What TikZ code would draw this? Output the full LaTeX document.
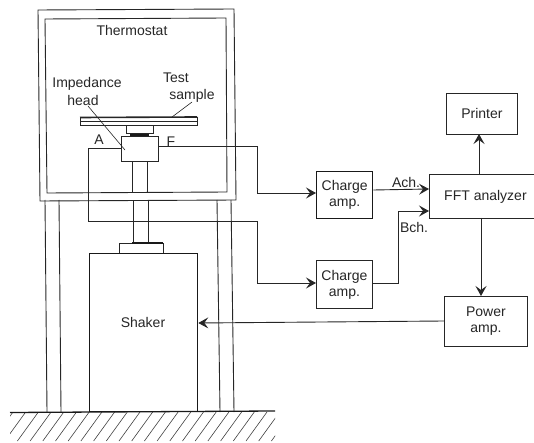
\documentclass[tikz,border=0pt]{standalone}
\usepackage{fontspec}
\setmainfont{Liberation Sans}
\usetikzlibrary{arrows.meta}
\tikzset{
  ln/.style={draw=black!85,line width=0.9pt},
  thick ln/.style={draw=black!90,line width=1.3pt},
  lbl/.style={inner sep=0pt,font=\fontsize{14}{16}\selectfont,text=black!85},
  blockbox/.style={ln,fill=white,inner sep=0pt,anchor=north west,align=center,font=\fontsize{14}{16}\selectfont,text=black!85},
  arw/.style={ln,-{Stealth[length=10pt,width=11pt,inset=4pt]}},
}
\begin{document}
\begin{tikzpicture}[x=1pt,y=-1pt]
\useasboundingbox (0,0) rectangle (534,443);
% hatching
\begin{scope}
\clip (10,412) rectangle (275,441);
\foreach \h in {0,12.7,...,300} {\draw[draw=black!75,line width=0.6pt] (\h-8,441) -- (\h+13,412);}
\end{scope}
% legs
\draw[ln] (45,200) -- (47,412) (59,200) -- (61,412) (217,200) -- (220,412) (231,200) -- (234,412);
% thermostat
\draw[ln] (38,10) -- (234,9) -- (236,200) -- (40,201) -- cycle;
\draw[ln] (45,19) -- (226,18) -- (227,192) -- (47,193) -- cycle;
% rod
\draw[ln] (132,161) -- (132,193) (147,161) -- (147,193) (133,201) -- (133,243) (148,201) -- (148,243);
% sample
\draw[ln,fill=white] (80,117) rectangle (197,125);
\draw[line width=1.6pt,black!85] (80,117.5) -- (197,117);
\draw[ln] (80,121) -- (197,121);
\draw[ln,fill=white] (126,125) rectangle (153,133);
\draw[thick ln] (130,135) -- (149,135);
\node[blockbox,minimum width=37pt,minimum height=25.5pt] (head) at (121,136) {};
% shaker
\draw[ln,fill=white] (119,243) rectangle (163,253);
\draw[thick ln] (132,243) -- (163,243);
\node[blockbox,thick ln,minimum width=108pt,minimum height=158pt] (shaker) at (89,253) {};
\node[lbl] (tshaker) at (143,322) {Shaker};
% ground
\draw[thick ln] (10,412.5) -- (275,411);
% blocks
\node[blockbox,thick ln,minimum width=56pt,minimum height=47pt] (amp1) at (316,171) {Charge\\amp.};
\node[blockbox,minimum width=56pt,minimum height=48pt] (amp2) at (316,260) {Charge\\amp.};
\node[blockbox,minimum width=112pt,minimum height=44pt] (fft) at (429,174) {FFT analyzer};
\node[blockbox,minimum width=71pt,minimum height=41pt] (printer) at (446,93) {Printer};
\node[blockbox,minimum width=83pt,minimum height=50pt] (power) at (444,296) {Power\\amp.};
% coordinates
\coordinate (f1) at (257,146.5);
\coordinate (f2) at (257,193);
\coordinate (a1) at (88,148);
\coordinate (a2) at (88,221);
\coordinate (a3) at (257,221);
\coordinate (a4) at (257,283);
\coordinate (b1) at (398,283);
\coordinate (b2) at (398,211);
% wires
\draw[arw] (head.east |- f1) -- (f1) -- (f2) -- (f2 -| amp1.west);
\draw[ln] (head.west |- a1) -- (a1) -- (a2) -- (a3) -- (a4);
\draw[arw] (a4) -- (a4 -| amp2.west);
\draw[arw] (amp1.east |- 0,190) -- (fft.west |- 0,189);
\draw[arw] (amp2.east |- b1) -- (b1) -- (b2) -- (b2 -| fft.west);
\draw[arw] (479,174) -- (479,134);
\draw[arw] (481,218) -- (481,296);
\draw[arw] (power.west |- 0,321) -- (shaker.east |- 0,323);
% labels
\node[lbl] (tth) at (132,30) {Thermostat};
\node[lbl] (timp) at (87,84) {Impedance};
\node[lbl] (thead) at (83,100) {head};
\node[lbl] (ttest) at (176,78) {Test};
\node[lbl] (tsam) at (192,96) {sample};
\node[lbl] (ta) at (99,140) {A};
\node[lbl] (tf) at (171,142) {F};
\node[lbl] (tach) at (406,182) {Ach.};
\node[lbl] (tbch) at (414,227) {Bch.};
% leaders
\coordinate (l1) at (88,106);
\coordinate (l2) at (125,150);
\coordinate (l3) at (192,102);
\coordinate (l4) at (172,117);
\draw[draw=black!85,line width=0.6pt] (l1) -- (l2) (l3) -- (l4);
\end{tikzpicture}
\end{document}
